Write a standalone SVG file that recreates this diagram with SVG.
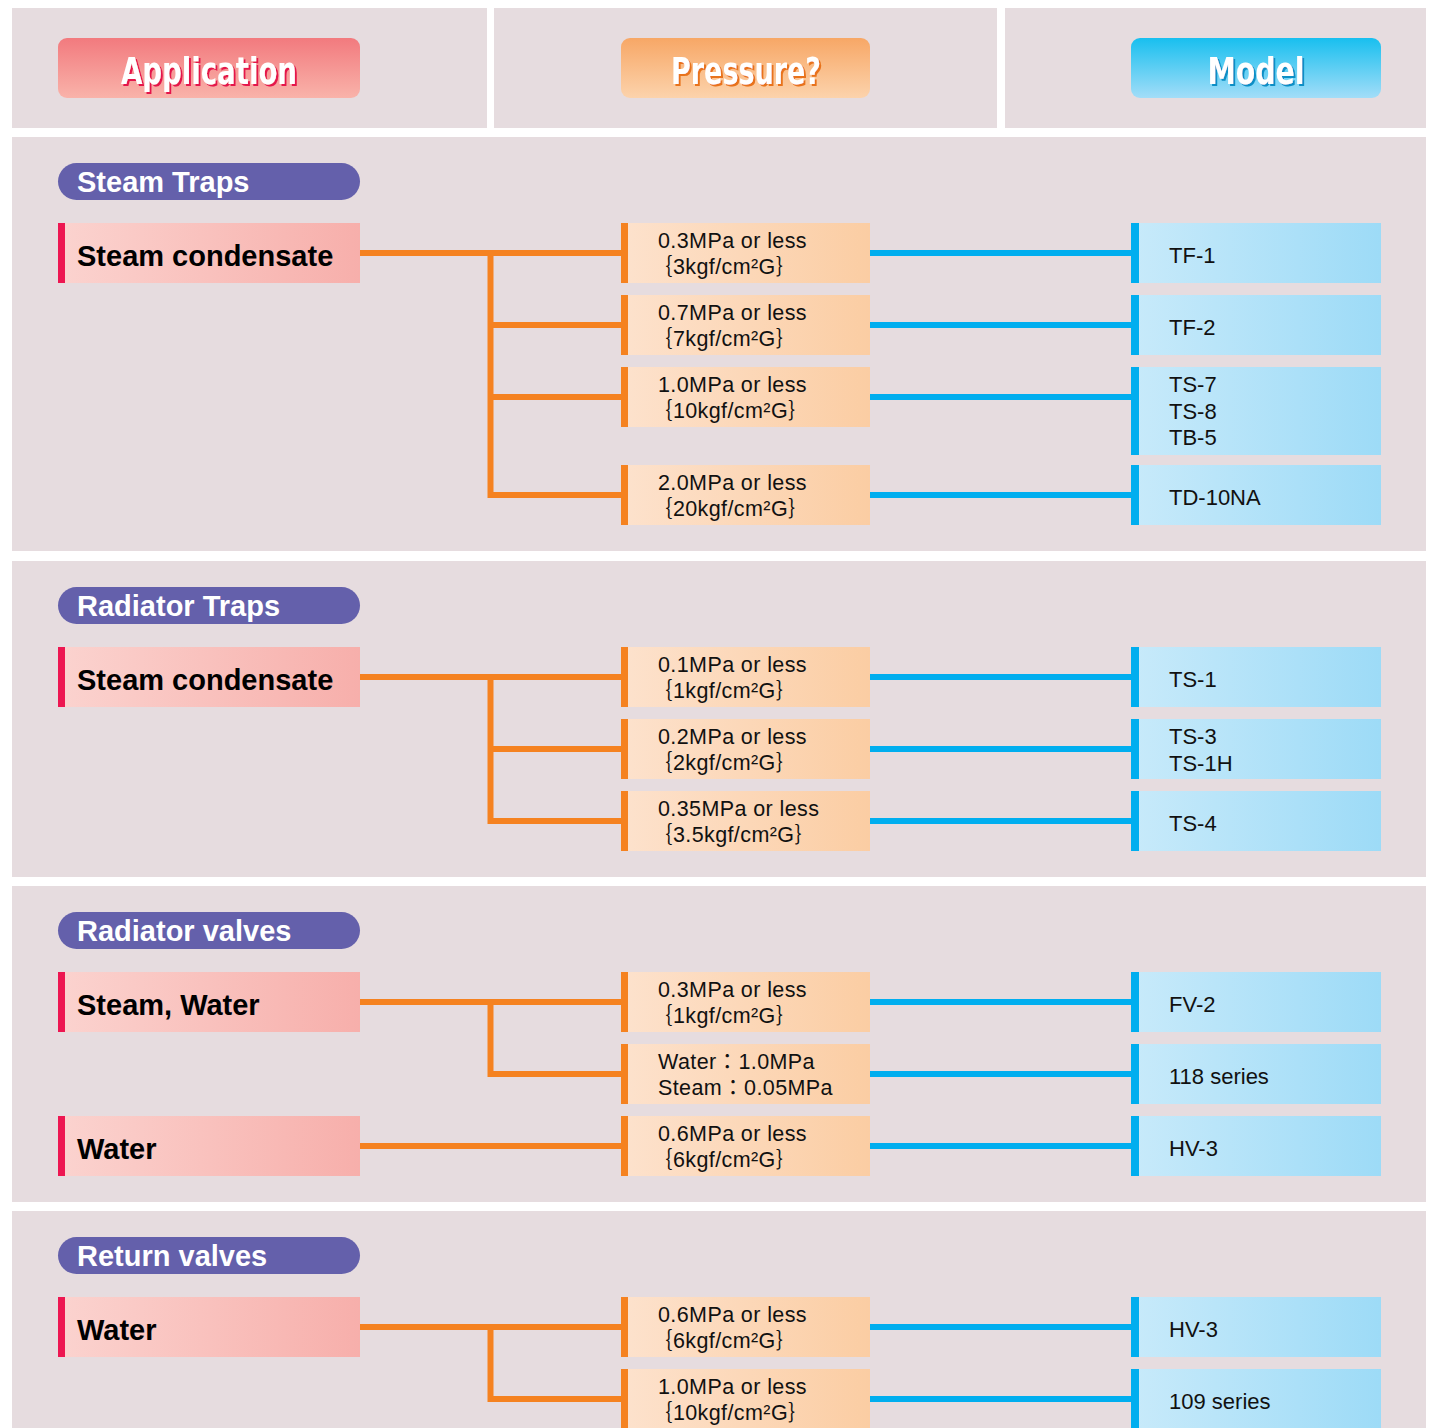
<svg xmlns="http://www.w3.org/2000/svg" width="1435" height="1428" viewBox="0 0 1435 1428">
<defs>
<linearGradient id="gHdrApp" x1="0" y1="0" x2="0" y2="1"><stop offset="0" stop-color="#f27a7e"/><stop offset="1" stop-color="#f9b3aa"/></linearGradient>
<linearGradient id="gHdrPre" x1="0" y1="0" x2="0" y2="1"><stop offset="0" stop-color="#f7a766"/><stop offset="1" stop-color="#fcd3ac"/></linearGradient>
<linearGradient id="gHdrMod" x1="0" y1="0" x2="0" y2="1"><stop offset="0" stop-color="#18bfef"/><stop offset="1" stop-color="#a3ddf8"/></linearGradient>
<linearGradient id="gApp" x1="0" y1="0" x2="1" y2="0"><stop offset="0" stop-color="#fbd3cf"/><stop offset="1" stop-color="#f7afab"/></linearGradient>
<linearGradient id="gPre" x1="0" y1="0" x2="1" y2="0"><stop offset="0" stop-color="#fde2cd"/><stop offset="1" stop-color="#fbcda3"/></linearGradient>
<linearGradient id="gMod" x1="0" y1="0" x2="1" y2="0"><stop offset="0" stop-color="#c8eafa"/><stop offset="1" stop-color="#9ddbf7"/></linearGradient>
<filter id="shApp" x="-10%" y="-20%" width="120%" height="150%"><feDropShadow dx="2" dy="2" stdDeviation="0" flood-color="#e5124c"/></filter>
<filter id="shPre" x="-10%" y="-20%" width="120%" height="150%"><feDropShadow dx="2" dy="2" stdDeviation="0" flood-color="#e8731f"/></filter>
<filter id="shMod" x="-10%" y="-20%" width="120%" height="150%"><feDropShadow dx="2" dy="2" stdDeviation="0" flood-color="#0b8fc6"/></filter>
</defs>
<style>
.panel{fill:#e6dcdf}
.hdr{font-family:"Liberation Sans Narrow","DejaVu Sans Condensed","Liberation Sans",sans-serif;font-weight:bold;font-size:38px;fill:#ffffff;text-anchor:middle;font-stretch:condensed}
.pill{fill:#6460ab}
.pillt{font-family:"Liberation Sans",Arial,sans-serif;font-weight:bold;font-size:29px;fill:#ffffff}
.appbox{fill:url(#gApp)}
.appbar{fill:#ed1651}
.appt{font-family:"Liberation Sans",Arial,sans-serif;font-weight:bold;font-size:29px;fill:#000000}
.prebox{fill:url(#gPre)}
.prebar{fill:#f58220}
.pret{font-family:"Liberation Sans",Arial,"Noto Sans CJK JP",sans-serif;font-size:21.5px;letter-spacing:0.4px;fill:#111111}
.modbox{fill:url(#gMod)}
.modbar{fill:#00aeef}
.modt{font-family:"Liberation Sans",Arial,sans-serif;font-size:22px;fill:#111111}
.co{fill:none;stroke:#f58220;stroke-width:6}
.cb{fill:none;stroke:#00aeef;stroke-width:6}
</style>
<rect x="0" y="0" width="1435" height="1428" fill="#ffffff"/>
<g id="panels">
<rect class="panel" x="12" y="8" width="475" height="120"/>
<rect class="panel" x="494" y="8" width="503" height="120"/>
<rect class="panel" x="1005" y="8" width="421" height="120"/>
<rect class="panel" x="12" y="137" width="1414" height="414"/>
<rect class="panel" x="12" y="561" width="1414" height="316"/>
<rect class="panel" x="12" y="886" width="1414" height="316"/>
<rect class="panel" x="12" y="1211" width="1414" height="217"/>
</g>
<g id="header-application">
<rect x="58" y="38" width="302" height="60" rx="9" fill="url(#gHdrApp)"/>
<text class="hdr" x="209" y="84" textLength="176" lengthAdjust="spacingAndGlyphs" filter="url(#shApp)">Application</text>
</g>
<g id="header-pressure">
<rect x="621" y="38" width="249" height="60" rx="9" fill="url(#gHdrPre)"/>
<text class="hdr" x="746" y="84" textLength="150" lengthAdjust="spacingAndGlyphs" filter="url(#shPre)">Pressure?</text>
</g>
<g id="header-model">
<rect x="1131" y="38" width="250" height="60" rx="9" fill="url(#gHdrMod)"/>
<text class="hdr" x="1256" y="84" textLength="97" lengthAdjust="spacingAndGlyphs" filter="url(#shMod)">Model</text>
</g>

<g id="connectors">
<path class="co" d="M360 253H621M490.5 250V498M487.5 325H621M487.5 397H621M487.5 495H621"/>
<path class="cb" d="M870 253H1131M870 325H1131M870 397H1131M870 495H1131"/>
<path class="co" d="M360 677H621M490.5 674V824M487.5 749H621M487.5 821H621"/>
<path class="cb" d="M870 677H1131M870 749H1131M870 821H1131"/>
<path class="co" d="M360 1002H621M490.5 999V1077M487.5 1074H621M360 1146H621"/>
<path class="cb" d="M870 1002H1131M870 1074H1131M870 1146H1131"/>
<path class="co" d="M360 1327H621M490.5 1324V1402M487.5 1399H621"/>
<path class="cb" d="M870 1327H1131M870 1399H1131"/>
</g>

<g id="sec1-title"><rect class="pill" x="58" y="163" width="302" height="37" rx="18.5"/><text class="pillt" x="77" y="192">Steam Traps</text></g>
<g id="sec1-app"><rect class="appbox" x="58" y="223" width="302" height="60"/><rect class="appbar" x="58" y="223" width="7" height="60"/><text class="appt" x="77" y="266">Steam condensate</text></g>
<g id="sec1-p1"><rect class="prebox" x="621" y="223" width="249" height="60"/><rect class="prebar" x="621" y="223" width="7" height="60"/><text class="pret" x="658" y="248">0.3MPa or less</text><text class="pret" x="651" y="274">｛3kgf/cm²G｝</text></g>
<g id="sec1-p2"><rect class="prebox" x="621" y="295" width="249" height="60"/><rect class="prebar" x="621" y="295" width="7" height="60"/><text class="pret" x="658" y="320">0.7MPa or less</text><text class="pret" x="651" y="346">｛7kgf/cm²G｝</text></g>
<g id="sec1-p3"><rect class="prebox" x="621" y="367" width="249" height="60"/><rect class="prebar" x="621" y="367" width="7" height="60"/><text class="pret" x="658" y="392">1.0MPa or less</text><text class="pret" x="651" y="418">｛10kgf/cm²G｝</text></g>
<g id="sec1-p4"><rect class="prebox" x="621" y="465" width="249" height="60"/><rect class="prebar" x="621" y="465" width="7" height="60"/><text class="pret" x="658" y="490">2.0MPa or less</text><text class="pret" x="651" y="516">｛20kgf/cm²G｝</text></g>
<g id="sec1-m1"><rect class="modbox" x="1131" y="223" width="250" height="60"/><rect class="modbar" x="1131" y="223" width="8" height="60"/><text class="modt" x="1169" y="263">TF-1</text></g>
<g id="sec1-m2"><rect class="modbox" x="1131" y="295" width="250" height="60"/><rect class="modbar" x="1131" y="295" width="8" height="60"/><text class="modt" x="1169" y="335">TF-2</text></g>
<g id="sec1-m3"><rect class="modbox" x="1131" y="367" width="250" height="88"/><rect class="modbar" x="1131" y="367" width="8" height="88"/><text class="modt" x="1169" y="392">TS-7</text><text class="modt" x="1169" y="419">TS-8</text><text class="modt" x="1169" y="445">TB-5</text></g>
<g id="sec1-m4"><rect class="modbox" x="1131" y="465" width="250" height="60"/><rect class="modbar" x="1131" y="465" width="8" height="60"/><text class="modt" x="1169" y="505">TD-10NA</text></g>

<g id="sec2-title"><rect class="pill" x="58" y="587" width="302" height="37" rx="18.5"/><text class="pillt" x="77" y="616">Radiator Traps</text></g>
<g id="sec2-app"><rect class="appbox" x="58" y="647" width="302" height="60"/><rect class="appbar" x="58" y="647" width="7" height="60"/><text class="appt" x="77" y="690">Steam condensate</text></g>
<g id="sec2-p1"><rect class="prebox" x="621" y="647" width="249" height="60"/><rect class="prebar" x="621" y="647" width="7" height="60"/><text class="pret" x="658" y="672">0.1MPa or less</text><text class="pret" x="651" y="698">｛1kgf/cm²G｝</text></g>
<g id="sec2-p2"><rect class="prebox" x="621" y="719" width="249" height="60"/><rect class="prebar" x="621" y="719" width="7" height="60"/><text class="pret" x="658" y="744">0.2MPa or less</text><text class="pret" x="651" y="770">｛2kgf/cm²G｝</text></g>
<g id="sec2-p3"><rect class="prebox" x="621" y="791" width="249" height="60"/><rect class="prebar" x="621" y="791" width="7" height="60"/><text class="pret" x="658" y="816">0.35MPa or less</text><text class="pret" x="651" y="842">｛3.5kgf/cm²G｝</text></g>
<g id="sec2-m1"><rect class="modbox" x="1131" y="647" width="250" height="60"/><rect class="modbar" x="1131" y="647" width="8" height="60"/><text class="modt" x="1169" y="687">TS-1</text></g>
<g id="sec2-m2"><rect class="modbox" x="1131" y="719" width="250" height="60"/><rect class="modbar" x="1131" y="719" width="8" height="60"/><text class="modt" x="1169" y="744">TS-3</text><text class="modt" x="1169" y="771">TS-1H</text></g>
<g id="sec2-m3"><rect class="modbox" x="1131" y="791" width="250" height="60"/><rect class="modbar" x="1131" y="791" width="8" height="60"/><text class="modt" x="1169" y="831">TS-4</text></g>

<g id="sec3-title"><rect class="pill" x="58" y="912" width="302" height="37" rx="18.5"/><text class="pillt" x="77" y="941">Radiator valves</text></g>
<g id="sec3-app1"><rect class="appbox" x="58" y="972" width="302" height="60"/><rect class="appbar" x="58" y="972" width="7" height="60"/><text class="appt" x="77" y="1015">Steam, Water</text></g>
<g id="sec3-app2"><rect class="appbox" x="58" y="1116" width="302" height="60"/><rect class="appbar" x="58" y="1116" width="7" height="60"/><text class="appt" x="77" y="1159">Water</text></g>
<g id="sec3-p1"><rect class="prebox" x="621" y="972" width="249" height="60"/><rect class="prebar" x="621" y="972" width="7" height="60"/><text class="pret" x="658" y="997">0.3MPa or less</text><text class="pret" x="651" y="1023">｛1kgf/cm²G｝</text></g>
<g id="sec3-p2"><rect class="prebox" x="621" y="1044" width="249" height="60"/><rect class="prebar" x="621" y="1044" width="7" height="60"/><text class="pret" x="658" y="1069">Water：1.0MPa</text><text class="pret" x="658" y="1095">Steam：0.05MPa</text></g>
<g id="sec3-p3"><rect class="prebox" x="621" y="1116" width="249" height="60"/><rect class="prebar" x="621" y="1116" width="7" height="60"/><text class="pret" x="658" y="1141">0.6MPa or less</text><text class="pret" x="651" y="1167">｛6kgf/cm²G｝</text></g>
<g id="sec3-m1"><rect class="modbox" x="1131" y="972" width="250" height="60"/><rect class="modbar" x="1131" y="972" width="8" height="60"/><text class="modt" x="1169" y="1012">FV-2</text></g>
<g id="sec3-m2"><rect class="modbox" x="1131" y="1044" width="250" height="60"/><rect class="modbar" x="1131" y="1044" width="8" height="60"/><text class="modt" x="1169" y="1084">118 series</text></g>
<g id="sec3-m3"><rect class="modbox" x="1131" y="1116" width="250" height="60"/><rect class="modbar" x="1131" y="1116" width="8" height="60"/><text class="modt" x="1169" y="1156">HV-3</text></g>

<g id="sec4-title"><rect class="pill" x="58" y="1237" width="302" height="37" rx="18.5"/><text class="pillt" x="77" y="1266">Return valves</text></g>
<g id="sec4-app"><rect class="appbox" x="58" y="1297" width="302" height="60"/><rect class="appbar" x="58" y="1297" width="7" height="60"/><text class="appt" x="77" y="1340">Water</text></g>
<g id="sec4-p1"><rect class="prebox" x="621" y="1297" width="249" height="60"/><rect class="prebar" x="621" y="1297" width="7" height="60"/><text class="pret" x="658" y="1322">0.6MPa or less</text><text class="pret" x="651" y="1348">｛6kgf/cm²G｝</text></g>
<g id="sec4-p2"><rect class="prebox" x="621" y="1369" width="249" height="70"/><rect class="prebar" x="621" y="1369" width="7" height="70"/><text class="pret" x="658" y="1394">1.0MPa or less</text><text class="pret" x="651" y="1420">｛10kgf/cm²G｝</text></g>
<g id="sec4-m1"><rect class="modbox" x="1131" y="1297" width="250" height="60"/><rect class="modbar" x="1131" y="1297" width="8" height="60"/><text class="modt" x="1169" y="1337">HV-3</text></g>
<g id="sec4-m2"><rect class="modbox" x="1131" y="1369" width="250" height="70"/><rect class="modbar" x="1131" y="1369" width="8" height="70"/><text class="modt" x="1169" y="1409">109 series</text></g>
</svg>
